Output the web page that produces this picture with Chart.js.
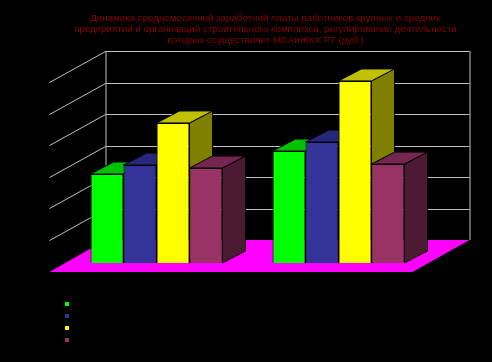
<!DOCTYPE html>
<html>
<head>
<meta charset="utf-8">
<script src="https://cdn.jsdelivr.net/npm/chart.js@4"></script>
<style>
    html, body { margin: 0; padding: 0; background: #000; }
    canvas { display: block; }
</style>
</head>
<body>
<canvas id="wageChart" width="492" height="362"></canvas>
<script>
// chart data (axis and legend labels are not visible there)
const categories = ["1", "2"];
const seriesNames = ["Ряд 1", "Ряд 2", "Ряд 3", "Ряд 4"];
const series1 = [2825, 3555];
const series2 = [3110, 3840];
const series3 = [4445, 5780];
const series4 = [3015, 3140];
const titleLines = [
    "Динамика среднемесячной заработной платы работников крупных и средних",
    "предприятий и организаций строительного комплекса, регулирование деятельности",
    "которых осуществляет МСАиЖКХ РТ (руб.)"
];

const seriesValues = [series1, series2, series3, series4];
const frontColors = ["#00ff00", "#333399", "#ffff00", "#993366"];
const topColors = ["#00c000", "#26267a", "#c0c000", "#732650"];
const sideColors = ["#008000", "#1a1a4d", "#808000", "#4d1a33"];

function poly(ctx, pts, fill, stroke) {
    ctx.beginPath();
    pts.forEach((p, i) => (i ? ctx.lineTo(p[0], p[1]) : ctx.moveTo(p[0], p[1])));
    ctx.closePath();
    ctx.fillStyle = fill;
    ctx.fill();
    if (stroke) {
        ctx.strokeStyle = stroke;
        ctx.lineWidth = 1;
        ctx.stroke();
    }
}

// walls, floor and the 3d faces of the bars, all hung off the scales
const fake3d = {
    id: "fake3d",
    afterLayout(chart) {
        // title sits off centre in the original
        chart.titleBlock.left = 39;
        chart.titleBlock.right = 492;
    },
    beforeDatasetsDraw(chart) {
        const ctx = chart.ctx;
        const { x, y } = chart.scales;
        const zero = y.getPixelForValue(0);
        const wallL = x.left + 40, wallR = x.right + 40;
        const wallBase = zero - 23;

        ctx.save();
        // floor
        poly(ctx, [[x.left - 16, zero + 9], [x.right - 17, zero + 9], [wallR, wallBase], [wallL, wallBase]], "#ff00ff");

        // grid lines on the back and side walls
        ctx.strokeStyle = "#c0c0c0";
        ctx.lineWidth = 1;
        y.ticks.forEach(t => {
            if (t.value === 0) return;
            const yy = Math.round(y.getPixelForValue(t.value) - 23) + 0.5;
            ctx.beginPath();
            ctx.moveTo(wallL - 56, yy + 31);
            ctx.lineTo(wallL, yy);
            ctx.lineTo(wallR, yy);
            ctx.stroke();
        });
        ctx.beginPath();
        ctx.moveTo(wallL + 0.5, y.top - 23);
        ctx.lineTo(wallL + 0.5, wallBase);
        ctx.moveTo(wallR + 0.5, y.top - 23);
        ctx.lineTo(wallR + 0.5, wallBase);
        ctx.stroke();

        // bar sides and tops, left to right so later bars cover earlier ones
        const dx = 23, dy = 12;
        categories.forEach((_, c) => {
            seriesValues.forEach((_, s) => {
                const bar = chart.getDatasetMeta(s).data[c];
                const l = bar.x - bar.width / 2, r = bar.x + bar.width / 2;
                poly(ctx, [[r, bar.y], [r + dx, bar.y - dy], [r + dx, bar.base - dy], [r, bar.base]], sideColors[s], "#000");
                poly(ctx, [[l, bar.y], [l + dx, bar.y - dy], [r + dx, bar.y - dy], [r, bar.y]], topColors[s], "#000");
            });
        });
        ctx.restore();
    },
    afterDraw(chart) {
        // legend markers only, their text does not show in the original
        const ctx = chart.ctx;
        ctx.save();
        frontColors.forEach((color, i) => {
            ctx.fillStyle = color;
            ctx.fillRect(65, 302 + i * 12, 4, 4);
        });
        ctx.restore();
    }
};

new Chart(document.getElementById("wageChart").getContext("2d"), {
    type: "bar",
    plugins: [fake3d],
    data: {
        labels: categories,
        datasets: seriesValues.map((values, i) => ({
            label: seriesNames[i],
            data: values,
            backgroundColor: frontColors[i],
            borderColor: "#000",
            borderWidth: 1
        }))
    },
    options: {
        responsive: false,
        animation: false,
        layout: { padding: { left: 65.5, right: 62.5, top: 0, bottom: 99 } },
        datasets: { bar: { barPercentage: 1, categoryPercentage: 0.725 } },
        scales: {
            x: { display: false },
            y: { display: false, min: 0, max: 6000, ticks: { stepSize: 1000 } }
        },
        plugins: {
            legend: { display: false },
            tooltip: { enabled: false },
            title: {
                display: true,
                text: titleLines,
                color: "#8b0000",
                font: { family: "'Liberation Sans', Arial, sans-serif", size: 9.75, weight: "normal", lineHeight: "11px" },
                padding: { top: 13, bottom: 28 }
            }
        }
    }
});
</script>
</body>
</html>
